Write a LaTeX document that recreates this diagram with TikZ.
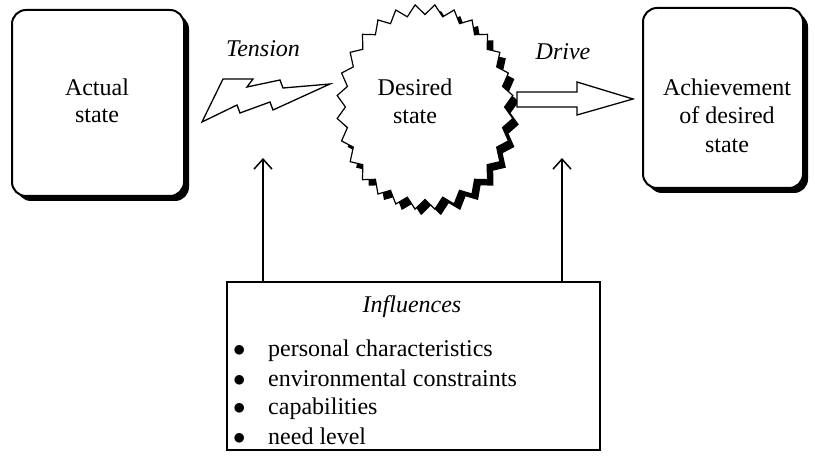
\documentclass[tikz,border=0pt]{standalone}
\usepackage{fontspec}
\setmainfont{Liberation Serif}
\usetikzlibrary{shapes.geometric,shadows,arrows.meta}
\begin{document}
\begin{tikzpicture}[x=1pt,y=-1pt,
  txt/.style={font=\fontsize{24}{27}\selectfont, align=center, inner sep=0pt},
  lab/.style={font=\fontsize{24}{27}\selectfont\itshape, inner sep=0pt, anchor=base},
  item/.style={font=\fontsize{24}{27}\selectfont, inner sep=0pt, anchor=base west},
  statebox/.style={draw, line width=2pt, rounded corners=14pt, fill=white,
    drop shadow={fill=black, opacity=1, shadow xshift=5pt, shadow yshift=-5pt}},
  upar/.style={line width=2.6pt, -{Straight Barb[length=10pt,width=18pt,line width=1.5pt]}}
]
\useasboundingbox (0,0) rectangle (815,465);

% Actual state
\node[statebox, minimum width=172pt, minimum height=186pt] (act) at (98,103) {};
\node[txt] (acttxt) at (97,100.3) {Actual\\state};

% Achievement
\node[statebox, minimum width=160pt, minimum height=180pt] (ach) at (723,98) {};
\node[txt, font=\fontsize{24}{28.5}\selectfont] (achtxt) at (727,115.3) {Achievement\\of desired\\state};

% Desired state star
\node[star, star points=28, star point ratio=0.9, minimum size=185pt, draw, line width=1.2pt, fill=white,
  xscale=0.86, transform shape,
  drop shadow={fill=black, opacity=1, shadow xshift=6pt, shadow yshift=-6pt}] (ds) at (425,107) {};
\node[txt, font=\fontsize{24}{28}\selectfont] (dstxt) at (415,100.8) {Desired\\state};

% Tension lightning
\draw[line width=1.3pt, fill=white, line join=miter]
  (202,122) -- (223,79) -- (253,79) -- (247,87) -- (280,80) -- (283,88) -- (330,84)
  -- (273,110) -- (270,102) -- (240,113) -- (237,105) -- cycle;
\node[lab] (ten) at (263,57) {Tension};

% Drive block arrow
\draw[line width=1.3pt, fill=white]
  (517,92) -- (577,92) -- (577,82) -- (633,99) -- (577,115) -- (577,107) -- (517,107) -- cycle;
\node[lab] (drv) at (563,60) {Drive};

% Influences box
\node[draw, line width=1.2pt, minimum width=373pt, minimum height=168pt] (inf) at (413.5,366) {};
\node[lab] (inft) at (412,313) {Influences};
\node[item] (i1) at (233,357) {\makebox[35pt][l]{$\bullet$}personal characteristics};
\node[item] (i2) at (233,387) {\makebox[35pt][l]{$\bullet$}environmental constraints};
\node[item] (i3) at (233,415) {\makebox[35pt][l]{$\bullet$}capabilities};
\node[item] (i4) at (233,445) {\makebox[35pt][l]{$\bullet$}need level};

% Influence arrows
\coordinate (t1) at (263,158);
\coordinate (t2) at (562,158);
\draw[upar] (inf.north -| t1) -- (t1);
\draw[upar] (inf.north -| t2) -- (t2);
\end{tikzpicture}
\end{document}
